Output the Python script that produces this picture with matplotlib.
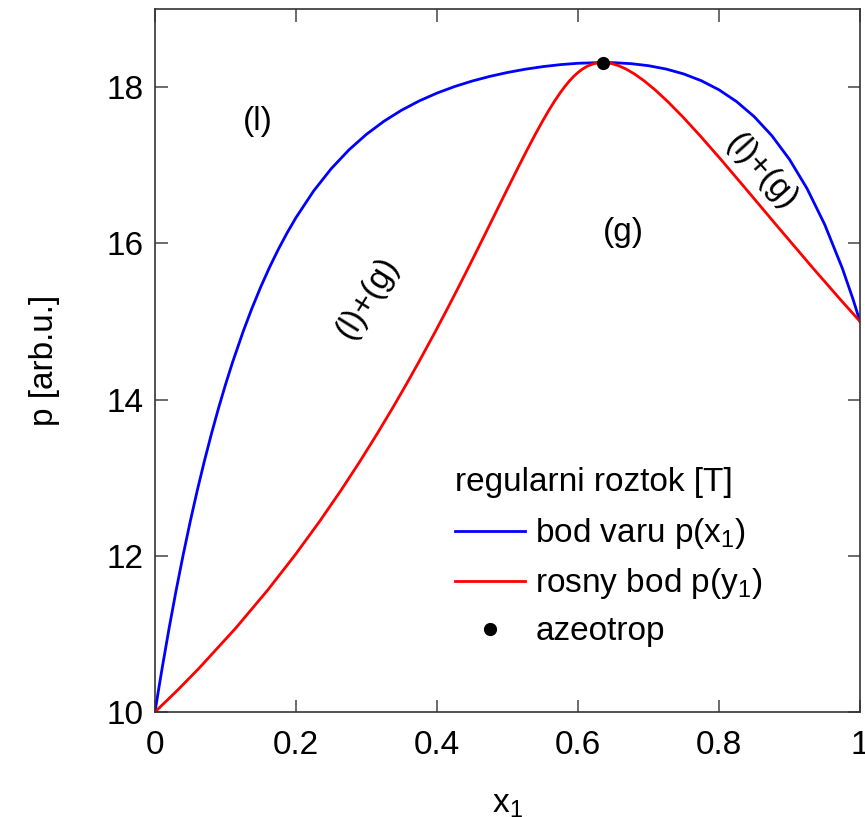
import matplotlib
matplotlib.use("Agg")
import matplotlib.pyplot as plt

plt.rcParams['font.family'] = ['Liberation Sans', 'DejaVu Sans']
plt.rcParams['mathtext.default'] = 'regular'

# liquid mole fraction x1 (bubble curve) and pressure
x1 = [0.0, 0.005, 0.01, 0.02, 0.03, 0.04, 0.05, 0.06, 0.07, 0.08, 0.09, 0.1,
      0.11, 0.125, 0.1375, 0.15, 0.1625, 0.175, 0.1875, 0.2, 0.225, 0.25, 0.275,
      0.3, 0.325, 0.35, 0.375, 0.4, 0.425, 0.45, 0.475, 0.5, 0.525, 0.55, 0.575,
      0.6, 0.635, 0.65, 0.675, 0.7, 0.725, 0.75, 0.775, 0.8, 0.825, 0.85, 0.875,
      0.9, 0.925, 0.95, 0.975, 0.99, 1.0]
p = [10.0, 10.2815, 10.554, 11.0728, 11.5588, 12.0137, 12.4396, 12.8382, 13.2112,
     13.56, 13.8864, 14.1915, 14.4767, 14.8699, 15.1683, 15.4423, 15.6936, 15.9243,
     16.1358, 16.3298, 16.6704, 16.9562, 17.1957, 17.3965, 17.5647, 17.7057,
     17.8241, 17.9236, 18.0074, 18.078, 18.1376, 18.1874, 18.2288, 18.2621,
     18.2877, 18.3053, 18.3149, 18.3131, 18.3005, 18.2741, 18.2312, 18.1685,
     18.0815, 17.9655, 17.8144, 17.6214, 17.3778, 17.0743, 16.6994, 16.2395,
     15.6791, 15.2872, 15.0]
# vapour mole fraction y1 (dew curve) at the same pressures
y1 = [0.0, 0.03221, 0.06182, 0.11442, 0.15968, 0.19899, 0.23344, 0.26385, 0.29086,
      0.31499, 0.33667, 0.35624, 0.37396, 0.39761, 0.41502, 0.43067, 0.44478,
      0.45757, 0.4692, 0.4798, 0.49843, 0.51421, 0.52774, 0.53946, 0.54973,
      0.55883, 0.56701, 0.57444, 0.58132, 0.58778, 0.59396, 0.6, 0.606, 0.6121,
      0.61839, 0.62503, 0.63511, 0.6398, 0.64825, 0.65764, 0.66816, 0.68007,
      0.69365, 0.70926, 0.72732, 0.74839, 0.77318, 0.80261, 0.83791, 0.88078,
      0.93364, 0.97154, 1.0]
azeo_x = [0.635]
azeo_p = [18.315]

FS = 24

fig = plt.figure(figsize=(8.65, 8.17), dpi=100)
ax = fig.add_axes([155/865, 1-712/817, (860-155)/865, (712-9)/817])

ax.plot(x1, p, color='#0000ff', lw=2.0, label='bod varu p(x$_1$)',
        solid_joinstyle='round')
ax.plot(y1, p, color='#ff0000', lw=2.0, label='rosny bod p(y$_1$)',
        solid_joinstyle='round')
ax.plot(azeo_x, azeo_p, 'o', color='black', ms=8.5, label='azeotrop', zorder=5)

ax.set_xlim(0, 1)
ax.set_ylim(10, 19)
ax.set_xticks([0, 0.2, 0.4, 0.6, 0.8, 1.0])
ax.set_xticklabels(['0', '0.2', '0.4', '0.6', '0.8', '1'])
ax.set_yticks([10, 12, 14, 16, 18])
for s in ax.spines.values():
    s.set_color('#333333')
    s.set_linewidth(1.2)
ax.tick_params(direction='in', length=9, width=1.1, color='#444444',
               top=True, right=True, labelsize=FS)
ax.tick_params(axis='x', pad=13)
ax.tick_params(axis='y', pad=8)

ax.set_xlabel('x$_1$', fontsize=FS, labelpad=20)
ax.set_ylabel('p [arb.u.]', fontsize=FS, labelpad=34)

ax.text(0.146, 17.56, '(l)', fontsize=FS, ha='center', va='center')
ax.text(0.664, 16.14, '(g)', fontsize=FS, ha='center', va='center')
ax.text(0.302, 15.31, '(l)+(g)', fontsize=FS, ha='center', va='center', rotation=58)
ax.text(0.861, 16.91, '(l)+(g)', fontsize=FS, ha='center', va='center', rotation=-48)

# legend title placed as its own text, entries via the legend
ax.text((455-155)/705, (712-482)/703, 'regularni roztok [T]', fontsize=FS,
        ha='left', va='center', transform=ax.transAxes)
leg = ax.legend(loc='upper left', bbox_to_anchor=((442-155)/705, (712-503)/703),
                frameon=False, fontsize=FS, handlelength=2.1,
                handletextpad=0.3, labelspacing=0.45, borderaxespad=0)

fig.savefig('out.png', dpi=100)
